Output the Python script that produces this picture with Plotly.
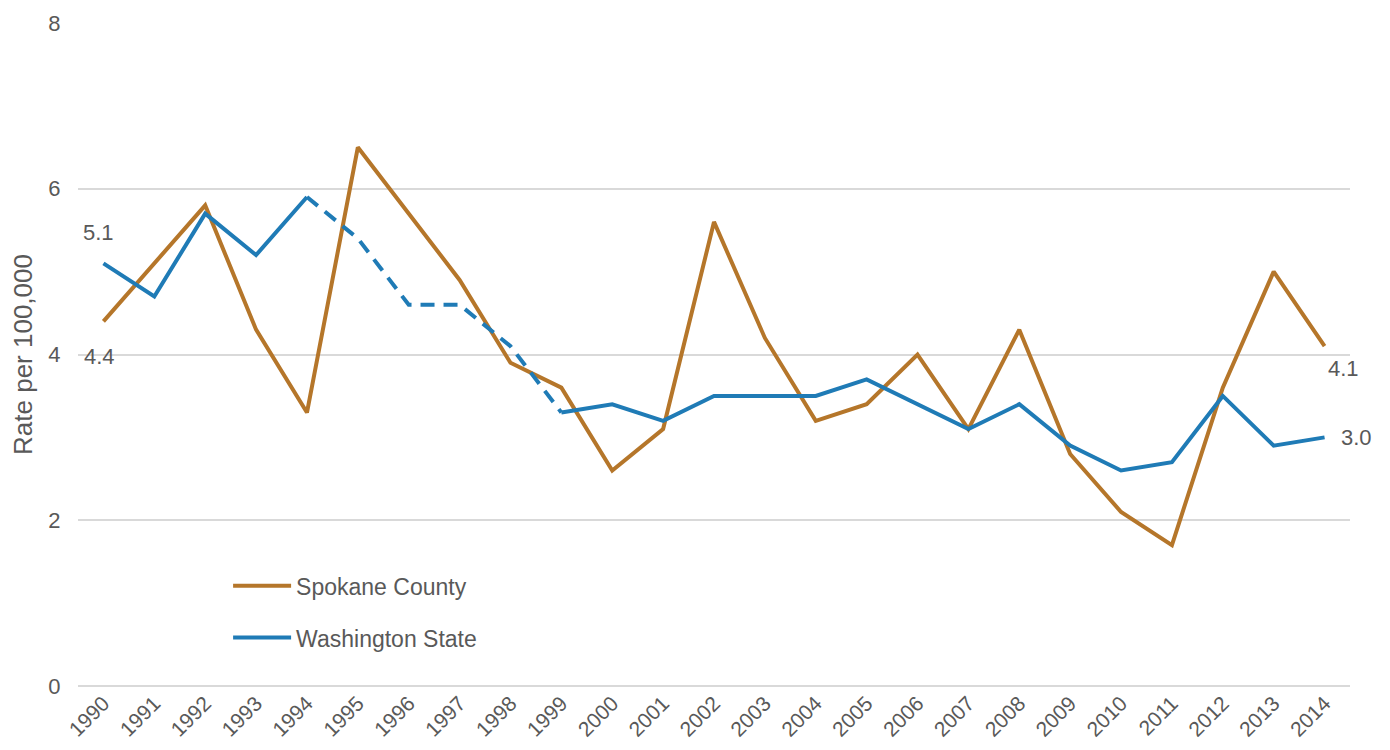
import plotly.graph_objects as go

years = [str(y) for y in range(1990, 2015)]
spokane = [4.4, 5.1, 5.8, 4.3, 3.3, 6.5, 5.7, 4.9, 3.9, 3.6, 2.6, 3.1, 5.6, 4.2,
           3.2, 3.4, 4.0, 3.1, 4.3, 2.8, 2.1, 1.7, 3.6, 5.0, 4.1]
washington = [5.1, 4.7, 5.7, 5.2, 5.9, 5.4, 4.6, 4.6, 4.1, 3.3, 3.4, 3.2, 3.5, 3.5,
              3.5, 3.7, 3.4, 3.1, 3.4, 2.9, 2.6, 2.7, 3.5, 2.9, 3.0]
# Years 1994-1999 of the state series are drawn dashed
dash_start, dash_end = 4, 9

SPOKANE_COLOR = "#B5762A"
WA_COLOR = "#1F7BB6"
TEXT_COLOR = "#595959"
GRID_COLOR = "#D9D9D9"
FONT_SIZE = 22

fig = go.Figure()

fig.add_trace(go.Scatter(
    x=years, y=spokane, name="Spokane County", mode="lines",
    legendgroup="spokane",
    line=dict(color=SPOKANE_COLOR, width=4),
))

wa_solid = [v if (i <= dash_start or i >= dash_end) else None for i, v in enumerate(washington)]
wa_dash = [v if dash_start <= i <= dash_end else None for i, v in enumerate(washington)]

fig.add_trace(go.Scatter(
    x=years, y=wa_dash, mode="lines", showlegend=False, legendgroup="wa",
    line=dict(color=WA_COLOR, width=4, dash="14px,9px"), hoverinfo="skip",
))
fig.add_trace(go.Scatter(
    x=years, y=wa_solid, name="Washington State", mode="lines",
    legendgroup="wa",
    line=dict(color=WA_COLOR, width=4), connectgaps=False,
))

# Value labels at the first and last year of each series
# (x given as the category index, so the year strings are not read as numbers)
def value_label(idx, y, xshift=0, yshift=0, xanchor="center"):
    fig.add_annotation(
        x=idx, y=y, xref="x", yref="y", text=f"{y:.1f}", showarrow=False,
        xshift=xshift, yshift=yshift, xanchor=xanchor,
        font=dict(size=FONT_SIZE, color=TEXT_COLOR),
    )

last = len(years) - 1
value_label(0, spokane[0], xshift=-4, yshift=-35)
value_label(last, spokane[last], xshift=1, yshift=-22, xanchor="left")
value_label(0, washington[0], xshift=-5, yshift=31)
value_label(last, washington[last], xshift=14, xanchor="left")

fig.update_layout(
    width=1390, height=750,
    margin=dict(l=78, r=40, t=23, b=64),
    paper_bgcolor="white", plot_bgcolor="white",
    font=dict(family="Liberation Sans, Arial, sans-serif", color=TEXT_COLOR),
    showlegend=True,
    legend=dict(
        x=0.118, y=0.112, xanchor="left", yanchor="middle",
        font=dict(size=23, color=TEXT_COLOR),
        bgcolor="rgba(0,0,0,0)", tracegroupgap=19, traceorder="grouped",
        itemwidth=58,
    ),
    xaxis=dict(
        type="category", range=[-0.5, 24.5], automargin=False,
        tickangle=-45, tickfont=dict(size=21, color=TEXT_COLOR),
        showgrid=False, showline=False, ticks="",
    ),
    yaxis=dict(
        range=[0, 8], tickvals=[0, 2, 4, 6, 8], automargin=False,
        tickfont=dict(size=FONT_SIZE, color=TEXT_COLOR),
        showgrid=True, gridcolor=GRID_COLOR, gridwidth=2,
        zeroline=True, zerolinecolor=GRID_COLOR, zerolinewidth=2,
        ticks="outside", ticklen=12, tickcolor="rgba(0,0,0,0)",
        title=dict(text="Rate per 100,000", font=dict(size=26, color=TEXT_COLOR), standoff=8),
    ),
)

fig.write_html("out.html")
